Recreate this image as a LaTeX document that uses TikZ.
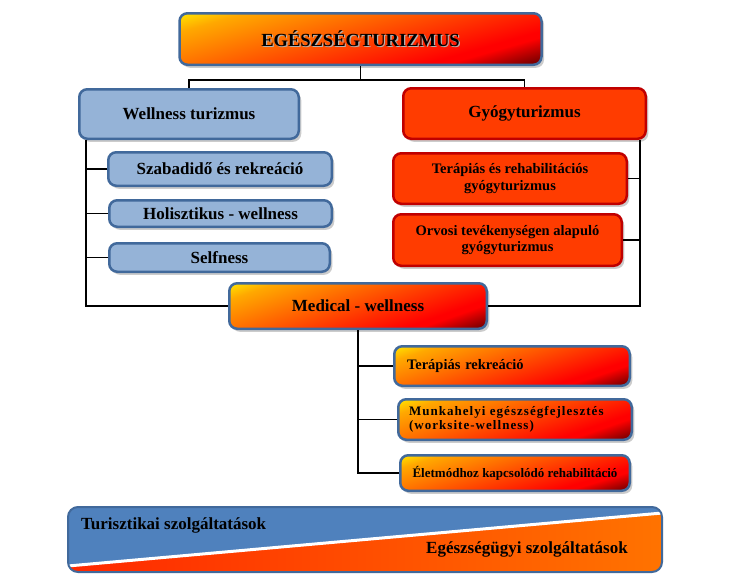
\documentclass[tikz,border=0pt]{standalone}
\usepackage{fontspec}
\setmainfont{Liberation Serif}
\usetikzlibrary{shadows,calc}
\definecolor{bluefill}{RGB}{149,179,215}
\definecolor{blueline}{RGB}{65,105,155}
\definecolor{redfill}{RGB}{255,60,0}
\definecolor{redline}{RGB}{192,0,0}
\definecolor{bandblue}{RGB}{79,129,189}
\definecolor{bandL}{RGB}{255,40,0}
\definecolor{bandR}{RGB}{255,115,0}
\pgfdeclarefunctionalshading{fire}{\pgfpoint{0bp}{0bp}}{\pgfpoint{100bp}{100bp}}{}{
  exch 2 mul exch sub 25 add 150 div
  dup 0 lt {pop 0} if dup 1 gt {pop 1} if
  dup 0.82 gt {dup 0.82 sub 3.4 mul 1 exch sub} {1} ifelse
  exch
  dup 0.12 lt {2 mul 0.9 exch sub} {0.12 sub 0.66 exch sub} ifelse
  dup 0 lt {pop 0} if
  0
}
\tikzset{
  box/.style={rounded corners=8pt, line width=2.5pt, align=center, inner sep=0pt,
    drop shadow={shadow xshift=2.5pt, shadow yshift=-3pt, fill=black, opacity=.2}},
  bluebox/.style={box, draw=blueline, fill=bluefill},
  redbox/.style={box, draw=redline, fill=redfill},
  firebox/.style={box, draw=blueline, shading=fire},
  fbig/.style={font=\fontsize{17}{19}\selectfont\bfseries},
  fmid/.style={font=\fontsize{14.5}{16.5}\selectfont\bfseries},
  fsmall/.style={font=\fontsize{13}{14.5}\selectfont\bfseries},
  conn/.style={line width=1.9pt, black}
}
\begin{document}
\begin{tikzpicture}[x=1pt,y=-1pt]
\useasboundingbox (0,0) rectangle (735,584);

% title
\node[firebox, minimum width=362pt, minimum height=51.5pt, font=\fontsize{18.5}{20}\selectfont\bfseries]
  (title) at (360.5,39) {\rlap{\hspace{1.3pt}\raisebox{-1.3pt}{\color{black!30}EGÉSZSÉGTURIZMUS}}EGÉSZSÉGTURIZMUS};

% wellness branch
\node[bluebox, fbig, minimum width=219.5pt, minimum height=49.5pt] (well) at (189,114) {Wellness turizmus};
\node[bluebox, fbig, minimum width=223.5pt, minimum height=33.5pt] (szab) at (220,169) {Szabadidő és rekreáció};
\node[bluebox, fbig, minimum width=222.5pt, minimum height=26.5pt] (holis) at (220.5,213.5) {Holisztikus - wellness};
\node[bluebox, fbig, minimum width=220.5pt, minimum height=28.5pt] (self) at (219.5,257.5) {Selfness};

% gyogy branch
\node[redbox, fbig, minimum width=242.5pt, minimum height=50.5pt] (gyog) at (524.5,113.5) {Gyógyturizmus};
\node[redbox, fmid, minimum width=233.5pt, minimum height=50.5pt] (terap) at (510,178.5) {Terápiás és rehabilitációs\\gyógyturizmus};
\node[redbox, fmid, minimum width=228.5pt, minimum height=51.5pt] (orvos) at (507.5,240) {Orvosi tevékenységen alapuló\\gyógyturizmus};

% medical wellness
\node[firebox, fbig, minimum width=257.5pt, minimum height=45.5pt] (med) at (358,306) {Medical - wellness};
\node[firebox, fmid, minimum width=235.5pt, minimum height=39.5pt, text width=210pt, align=left] (trek) at (512,366) {\mbox{Terápiás rekreáció}};
\node[firebox, fsmall, minimum width=233.5pt, minimum height=40.5pt, text width=212pt, align=left] (munk) at (515,419.5)
  {\addfontfeatures{LetterSpace=8}\mbox{Munkahelyi egészségfejlesztés}\\\mbox{(worksite-wellness)}};
\node[firebox, fsmall, minimum width=229.5pt, minimum height=35.5pt] (elet) at (515,473) {Életmódhoz kapcsolódó rehabilitáció};

% connectors
\coordinate (tj) at ($(title.south)+(0,14)$);
\draw[conn] (title.south) -- (tj);
\draw[conn] (well.north) |- (tj) -| (gyog.north);

\coordinate (lL) at ($(well.south west)+(8,0)$);
\draw[conn] (lL) |- (med.west);
\draw[conn] (szab.west) -- (szab.west -| lL);
\draw[conn] (holis.west) -- (holis.west -| lL);
\draw[conn] (self.west) -- (self.west -| lL);

\coordinate (lR) at ($(gyog.south east)+(-7,0)$);
\draw[conn] (lR) |- (med.east);
\draw[conn] (terap.east) -- (terap.east -| lR);
\draw[conn] (orvos.east) -- (orvos.east -| lR);

\draw[conn] (med.south) |- (elet.west);
\draw[conn] (trek.west) -- (trek.west -| med.south);
\draw[conn] (munk.west) -- (munk.west -| med.south);

% bottom band
\begin{scope}
\clip[rounded corners=10pt] (68,507) rectangle (662,572);
\fill[bandblue] (68,507) rectangle (662,572);
\shade[left color=bandL, right color=bandR] (68,566) -- (662,513) -- (662,575) -- (68,575) -- cycle;
\draw[white, line width=3pt] (60,566.7) -- (670,512.3);
\end{scope}
\draw[blueline, line width=2pt, rounded corners=10pt] (68,507) rectangle (662,572);
\node[fbig, anchor=west, inner sep=0pt] (tur) at (81,525) {Turisztikai szolgáltatások};
\node[fbig, anchor=east, inner sep=0pt] (egs) at (628,549) {Egészségügyi szolgáltatások};
\end{tikzpicture}
\end{document}
